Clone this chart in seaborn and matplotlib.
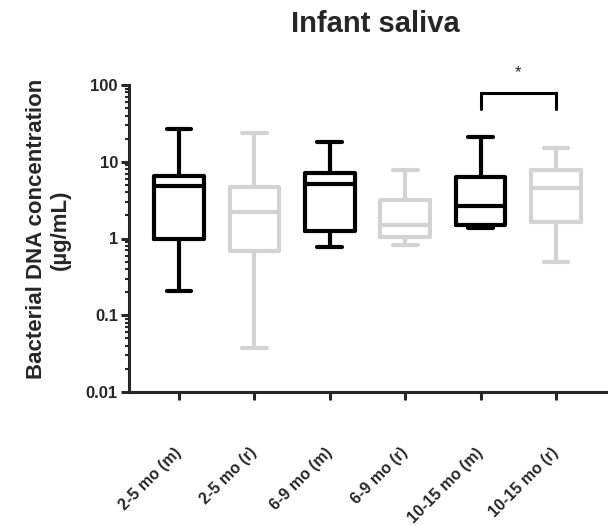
import numpy as np
import pandas as pd
import matplotlib
matplotlib.use("Agg")
import matplotlib.pyplot as plt
from matplotlib.ticker import NullFormatter
import seaborn as sns

# Groups (m = maternal?, r = ... as labelled on the chart)
groups = ["2-5 mo (m)", "2-5 mo (r)", "6-9 mo (m)", "6-9 mo (r)",
          "10-15 mo (m)", "10-15 mo (r)"]

# Five-number summaries, µg/mL
mins    = [0.207, 0.037, 0.78, 0.82, 1.39, 0.49]
q1s     = [0.99, 0.68, 1.24, 1.05, 1.49, 1.63]
medians = [4.78, 2.22, 5.13, 1.52, 2.63, 4.55]
q3s     = [6.44, 4.69, 7.13, 3.2, 6.33, 7.87]
maxs    = [26.6, 23.5, 18.0, 7.7, 21.3, 15.3]

box_colors = ["black", "#d3d3d3", "black", "#d3d3d3", "black", "#d3d3d3"]

# Significance bracket between the two 10-15 mo groups
sig_pair = ("10-15 mo (m)", "10-15 mo (r)")
sig_low, sig_high, sig_star = 48.7, 78.7, 143
sig_label = "*"

# Build long table: five points per group reproduce the box stats exactly
rows = []
for g, a, b, c, d, e in zip(groups, mins, q1s, medians, q3s, maxs):
    for v in (a, b, c, d, e):
        rows.append({"Group": g, "Value": v})
df = pd.DataFrame(rows)

sns.set_style("ticks")
plt.rcParams["font.family"] = ["Liberation Sans", "DejaVu Sans"]
plt.rcParams["font.weight"] = "bold"

fig, ax = plt.subplots(figsize=(6.08, 5.25), dpi=100)
fig.subplots_adjust(left=129 / 608, right=1.0, bottom=1 - 392 / 525, top=1 - 85 / 525)

sns.boxplot(
    data=df, x="Group", y="Value", hue="Group", order=groups, hue_order=groups,
    palette=box_colors, fill=False, whis=(0, 100), showfliers=False,
    width=0.66, linewidth=3, log_scale=True, legend=False, ax=ax,
)

# Axis styling (GraphPad look)
ax.set_ylim(0.01, 100)
ax.set_xlim(-0.663, 5.69)
ax.set_yticks([0.01, 0.1, 1, 10, 100], labels=["0.01", "0.1", "1", "10", "100"])
ax.yaxis.set_minor_formatter(NullFormatter())
ax.tick_params(axis="y", which="major", length=6, width=2.2, labelsize=12, pad=2)
ax.tick_params(axis="y", which="minor", length=3, width=1.5)
ax.set_xticks(range(len(groups)), labels=groups, rotation=45, ha="right",
              va="center", rotation_mode="anchor", fontsize=11.5, fontweight="bold")
ax.tick_params(axis="x", length=6, width=2.2, pad=36)
for lab in ax.get_yticklabels():
    lab.set_fontweight("bold")

sns.despine(ax=ax)
for side in ("left", "bottom"):
    ax.spines[side].set_linewidth(2.2)

ax.set_xlabel("")
ax.set_ylabel("Bacterial DNA concentration\n(µg/mL)", fontsize=16, fontweight="bold")
ax.yaxis.set_label_coords(-0.121, 0.53)
ax.set_title("Infant saliva", fontsize=21, fontweight="bold", pad=38, x=0.515)

# Significance bracket
x1, x2 = groups.index(sig_pair[0]), groups.index(sig_pair[1])
ax.plot([x1, x1, x2, x2], [sig_low, sig_high, sig_high, sig_low], color="black",
        lw=2.2, clip_on=False, solid_joinstyle="miter")
ax.text((x1 + x2) / 2, sig_star, sig_label, ha="center", va="center",
        fontsize=12, fontweight="normal", clip_on=False)

fig.savefig("out.png", dpi=100)
